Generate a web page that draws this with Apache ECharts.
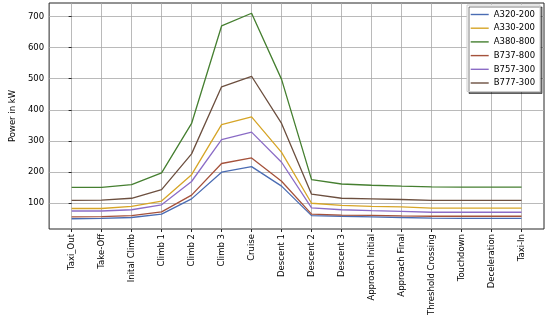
<!DOCTYPE html>
<html>
<head>
<meta charset="utf-8">
<script src="https://cdn.jsdelivr.net/npm/echarts@6/dist/echarts.min.js"></script>
<style>html,body{margin:0;padding:0;background:#fff;}#c{width:550px;height:321px;}</style>
</head>
<body>
<div id="c"></div>
<script>
const categories = ["Taxi_Out","Take-Off","Inital Climb","Climb 1","Climb 2","Climb 3","Cruise","Descent 1","Descent 2","Descent 3","Approach Initial","Approach Final","Threshold Crossing","Touchdown","Deceleration","Taxi-In"];
const seriesNames = ["A320-200","A330-200","A380-800","B737-800","B757-300","B777-300"];
const a320 = [49, 50, 53, 64, 113, 199, 217, 154, 59, 57, 55, 53, 51, 50, 50, 50];
const a330 = [82, 82, 89, 106, 191, 352, 377, 263, 99, 92, 89, 87, 83, 83, 83, 83];
const a380 = [150, 150, 159, 197, 356, 670, 711, 498, 175, 161, 157, 154, 152, 151, 151, 151];
const b737 = [55, 56, 59, 71, 125, 227, 245, 170, 64, 61, 60, 58, 57, 57, 57, 57];
const b757 = [74, 74, 78, 94, 169, 304, 328, 231, 84, 78, 75, 73, 70, 70, 70, 70];
const b777 = [108, 109, 115, 143, 258, 474, 508, 356, 128, 115, 113, 111, 108, 108, 108, 108];
const yTicks = [100, 200, 300, 400, 500, 600, 700];
const colors = ["#4a6cb3", "#d6a527", "#457f30", "#a5523b", "#8b6cc6", "#6c4f3f"];

const values = [a320, a330, a380, b737, b757, b777];
const idx = categories.map((c, i) => i);
const font = "DejaVu Sans";
const fs = 8.5;
const chart = echarts.init(document.getElementById('c'), null, {renderer: 'canvas'});
chart.setOption({
  animation: false,
  color: colors,
  textStyle: {fontFamily: font},
  grid: {left: 37, right: 6, top: 3, bottom: 92, show: true, borderColor: '#262626', borderWidth: 1, backgroundColor: 'transparent'},
  legend: {
    show: true, orient: 'vertical', left: 467, top: 5,
    data: seriesNames,
    itemWidth: 18, itemHeight: 8, itemGap: 4.7, itemTextGap: 7,
    padding: [5, 5, 4, 3],
    itemStyle: {opacity: 0},
    lineStyle: {width: 1.4},
    backgroundColor: '#fff', borderColor: '#cccccc', borderWidth: 1, borderRadius: 0,
    shadowColor: 'rgba(0,0,0,0.5)', shadowOffsetX: 2, shadowOffsetY: 2, shadowBlur: 0,
    textStyle: {fontFamily: font, fontSize: fs, color: '#000', lineHeight: 8}
  },
  xAxis: {
    type: 'value', min: -0.75, max: 15.75,
    axisLine: {show: false},
    axisTick: {show: true, length: 3, lineStyle: {color: '#262626'}, customValues: idx},
    axisLabel: {customValues: idx, rotate: 90, margin: 5, fontFamily: font, fontSize: fs, color: '#000',
      formatter: v => categories[Math.round(v)]},
    splitLine: {show: true, lineStyle: {color: '#a8a8a8', width: 0.8}}
  },
  yAxis: {
    type: 'value', min: 16, max: 744,
    name: 'Power in kW', nameLocation: 'middle', nameGap: 29,
    nameTextStyle: {fontFamily: font, fontSize: fs, color: '#000'},
    axisLine: {show: false},
    axisTick: {show: true, length: 3, lineStyle: {color: '#262626'}, customValues: yTicks},
    axisLabel: {customValues: yTicks, margin: 5, fontFamily: font, fontSize: fs, color: '#000'},
    splitLine: {show: true, lineStyle: {color: '#a8a8a8', width: 0.8}}
  },
  series: seriesNames.map((n, k) => ({
    name: n, type: 'line', symbol: 'none', showSymbol: false,
    lineStyle: {width: 1.3, color: colors[k]},
    itemStyle: {color: colors[k]},
    data: values[k].map((v, i) => [i, v])
  }))
});
</script>
</body>
</html>
